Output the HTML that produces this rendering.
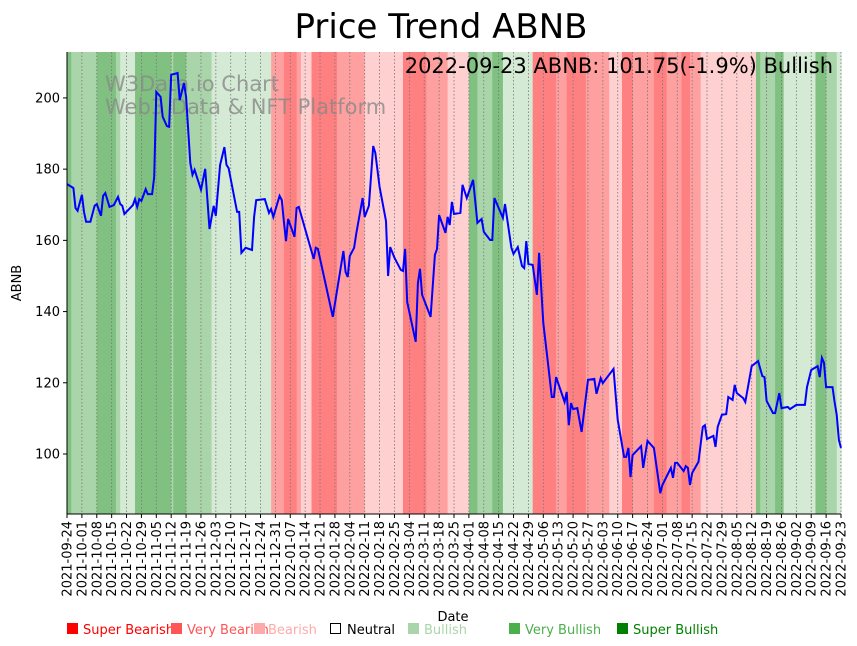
<!DOCTYPE html>
<html><head><meta charset="utf-8"><style>
body{margin:0;background:#fff;}
svg{display:block;font-family:"DejaVu Sans","Liberation Sans",sans-serif;}
</style></head><body>
<svg id="chart" width="857" height="646" viewBox="0 0 857 646" xmlns="http://www.w3.org/2000/svg">
<rect width="857" height="646" fill="#fff"/>
<g id="bands"></g>
<g id="grid"></g>
<text x="105" y="91" font-size="21" fill="#888" fill-opacity="0.8">W3Data.io Chart</text>
<text x="105" y="114" font-size="21" fill="#888" fill-opacity="0.8">Web3 Data &amp; NFT Platform</text>
<path id="priceLine" fill="none" stroke="#0000ff" stroke-width="2"/>
<g id="axes"></g>
<text x="441" y="38" font-size="34" text-anchor="middle" fill="#000">Price Trend ABNB</text>
<text x="833" y="73" font-size="21" text-anchor="end" fill="#000">2022-09-23 ABNB: 101.75(-1.9%) Bullish</text>
<text x="21" y="283" font-size="13" text-anchor="middle" transform="rotate(-90 21 283)">ABNB</text>
<text x="453" y="621" font-size="13" text-anchor="middle">Date</text>
<g font-size="13">
<rect x="67" y="623" width="11" height="11" fill="#ff0000"/>
<text x="83" y="634" fill="#ff0000">Super Bearish</text>
<rect x="171" y="623" width="11" height="11" fill="#ff5555"/>
<text x="187" y="634" fill="#ff5555">Very Bearish</text>
<rect x="254" y="623" width="11" height="11" fill="#ffaaaa"/>
<text x="268" y="634" fill="#ffaaaa">Bearish</text>
<rect x="330.5" y="623.5" width="10" height="10" fill="none" stroke="#000"/>
<text x="347" y="634" fill="#000">Neutral</text>
<rect x="408" y="623" width="11" height="11" fill="#aad5aa"/>
<text x="424" y="634" fill="#aad5aa">Bullish</text>
<rect x="509" y="623" width="11" height="11" fill="#4caf4c"/>
<text x="525" y="634" fill="#4caf4c">Very Bullish</text>
<rect x="617" y="623" width="11" height="11" fill="#008000"/>
<text x="633" y="634" fill="#008000">Super Bullish</text>
</g>
</svg>
<script>
// Price data: day offset from 2021-09-24 and close price
const days = [0,3,4,5,7,8,9,11,13,14,15,16,17,18,20,22,24,25,26,27,31,32,33,34,35,37,38,40,41,42,44,45,47,48,49,52,53,55,56,58,59,60,63,65,67,69,70,72,74,75,76,80,81,82,84,87,88,89,93,95,96,97,100,101,102,103,104,107,108,109,116,117,118,125,130,131,132,133,135,136,139,140,142,144,145,147,150,151,152,154,157,158,159,160,164,165,166,167,171,173,174,175,178,179,180,181,182,185,186,188,191,193,195,196,199,200,201,205,206,209,210,212,214,215,216,217,219,221,222,224,226,228,229,230,234,235,236,237,238,240,242,245,248,249,251,252,257,259,262,263,264,265,266,270,271,273,276,279,280,284,285,286,287,290,291,292,293,294,297,299,300,301,304,305,306,308,310,311,313,314,315,318,319,322,325,327,328,329,332,333,335,336,339,340,343,347,348,350,353,354,355,356,357,360,361,362,363,364];
const prices = [175.8,174.7,169.1,168.3,172.8,168.0,165.2,165.2,169.7,170.2,168.5,166.9,172.5,173.3,169.4,169.9,172.2,170.2,169.7,167.4,169.9,171.6,169.4,171.6,171.1,174.4,173.0,173.0,177.8,201.7,200.3,194.7,192.1,191.9,206.5,207.0,199.4,204.2,200.3,181.7,178.4,179.8,174.2,180.1,163.2,169.7,166.9,181.2,186.2,181.2,180.3,168.0,168.0,156.5,157.9,157.3,166.6,171.3,171.6,167.7,168.8,166.6,172.5,171.3,165.2,159.8,166.0,161.0,169.1,169.4,154.8,157.9,157.6,138.5,157.0,151.1,149.7,155.6,157.9,161.8,171.9,166.6,169.7,186.5,184.6,175.0,165.4,150.0,158.1,155.1,151.7,151.4,157.6,142.7,131.5,148.0,152.0,144.7,138.5,155.9,157.6,167.1,162.1,166.6,164.3,170.8,167.4,167.7,175.6,171.9,177.0,164.9,166.0,162.4,160.1,160.1,171.9,166.3,170.2,157.9,156.2,158.1,152.8,152.2,159.8,153.4,153.1,144.7,156.5,136.8,126.4,116.0,116.0,121.6,114.6,117.4,108.1,114.3,112.6,112.9,106.2,120.8,121.1,116.9,121.3,119.9,123.9,109.6,99.2,99.2,101.7,93.5,99.7,102.2,96.1,103.7,101.7,89.0,91.3,96.1,93.3,97.5,97.5,95.2,96.6,96.1,91.3,94.7,97.8,107.6,108.1,104.2,105.1,102.0,107.6,111.0,111.2,116.0,115.2,119.4,117.1,115.7,114.6,124.7,126.1,121.9,121.6,114.9,111.5,111.5,117.1,112.9,113.2,112.6,113.8,113.8,118.8,123.6,124.7,121.6,127.0,125.6,118.8,118.8,114.6,111.0,103.9,101.75];
// Sentiment bands: start day, end day, level (-3..3)
const bandStarts = [0,2,14,23,25,32,49,50,56,68,96,99,102,108,110,115,127,140,158,169,172,179,189,193,200,205,219,230,235,244,255,261,266,276,282,289,293,298,324,326,333,337,352,357,362];
const bandEnds   = [2,14,23,25,32,49,50,56,68,96,99,102,108,110,115,127,140,158,169,172,179,189,193,200,205,219,230,235,244,255,261,266,276,282,289,293,298,324,326,333,337,352,357,362,364.5];
const bandLevels = [3,2,3,2,1,3,2,3,2,1,-2,-2,-3,-2,-1,-3,-2,-1,-3,-2,-2,-1,3,2,3,1,-3,-2,-3,-2,-1,-3,-2,-3,-2,-3,-2,-1,3,2,3,1,3,2,1];
const yTicks = [100,120,140,160,180,200];

const NS = "http://www.w3.org/2000/svg";
const X0 = 67, X1 = 841, Y0 = 52, Y1 = 514;
const D0 = 0, D1 = 364;
const P0 = 83.15, P1 = 212.9;
const xs = d => X0 + (d - D0) / (D1 - D0) * (X1 - X0);
const ys = p => Y1 - (p - P0) / (P1 - P0) * (Y1 - Y0);
const levelColor = {"3":"#80c080","2":"#aad5aa","1":"#d4ead4","0":"#ffffff","-1":"#ffd0d0","-2":"#ffa0a0","-3":"#ff8080"};

const bands = document.getElementById('bands');
for (let i = 0; i < bandStarts.length; i++) {
  const r = document.createElementNS(NS, 'rect');
  const a = Math.max(X0, xs(bandStarts[i])), b = Math.min(X1, xs(bandEnds[i]));
  r.setAttribute('x', a); r.setAttribute('y', Y0);
  r.setAttribute('width', Math.max(0, b - a) + 0.5); r.setAttribute('height', Y1 - Y0);
  r.setAttribute('fill', levelColor[String(bandLevels[i])]);
  
  
  bands.appendChild(r);
}

const grid = document.getElementById('grid');
const axes = document.getElementById('axes');
const start = new Date(Date.UTC(2021, 8, 24));
for (let d = 0; d <= 364; d += 7) {
  const x = xs(d);
  const l = document.createElementNS(NS, 'line');
  l.setAttribute('x1', x); l.setAttribute('x2', x); l.setAttribute('y1', Y0); l.setAttribute('y2', Y1);
  l.setAttribute('stroke', '#777'); l.setAttribute('stroke-width', '0.8'); l.setAttribute('stroke-dasharray', '1.5,2');
  
  
  grid.appendChild(l);
  const t = document.createElementNS(NS, 'line');
  t.setAttribute('x1', x); t.setAttribute('x2', x); t.setAttribute('y1', Y1); t.setAttribute('y2', Y1 + 4);
  t.setAttribute('stroke', '#000');
  
  
  axes.appendChild(t);
  const dt = new Date(start.getTime() + d * 86400000);
  const lab = dt.toISOString().slice(0, 10);
  const tx = document.createElementNS(NS, 'text');
  tx.setAttribute('x', 0); tx.setAttribute('y', 0);
  tx.setAttribute('font-size', '13');
  tx.setAttribute('text-anchor', 'end');
  tx.setAttribute('transform', `translate(${x + 4.5},${Y1 + 7}) rotate(-90)`);
  
  
  tx.textContent = lab;
  axes.appendChild(tx);
}
yTicks.forEach(v => {
  const y = ys(v);
  const t = document.createElementNS(NS, 'line');
  t.setAttribute('x1', X0 - 4); t.setAttribute('x2', X0); t.setAttribute('y1', y); t.setAttribute('y2', y);
  t.setAttribute('stroke', '#000');
  
  
  axes.appendChild(t);
  const tx = document.createElementNS(NS, 'text');
  tx.setAttribute('x', X0 - 7); tx.setAttribute('y', y + 4.5);
  tx.setAttribute('font-size', '13'); tx.setAttribute('text-anchor', 'end');
  
  
  tx.textContent = v;
  axes.appendChild(tx);
});
const sp1 = document.createElementNS(NS, 'line');
sp1.setAttribute('x1', X0); sp1.setAttribute('x2', X0); sp1.setAttribute('y1', Y0); sp1.setAttribute('y2', Y1);
sp1.setAttribute('stroke', '#000');


axes.appendChild(sp1);
const sp2 = document.createElementNS(NS, 'line');
sp2.setAttribute('x1', X0); sp2.setAttribute('x2', X1); sp2.setAttribute('y1', Y1); sp2.setAttribute('y2', Y1);
sp2.setAttribute('stroke', '#000');


axes.appendChild(sp2);

let dpath = '';
for (let i = 0; i < days.length; i++) {
  dpath += (i ? 'L' : 'M') + xs(days[i]).toFixed(1) + ',' + ys(prices[i]).toFixed(1);
}
document.getElementById('priceLine').setAttribute('d', dpath);
</script>
</body></html>
